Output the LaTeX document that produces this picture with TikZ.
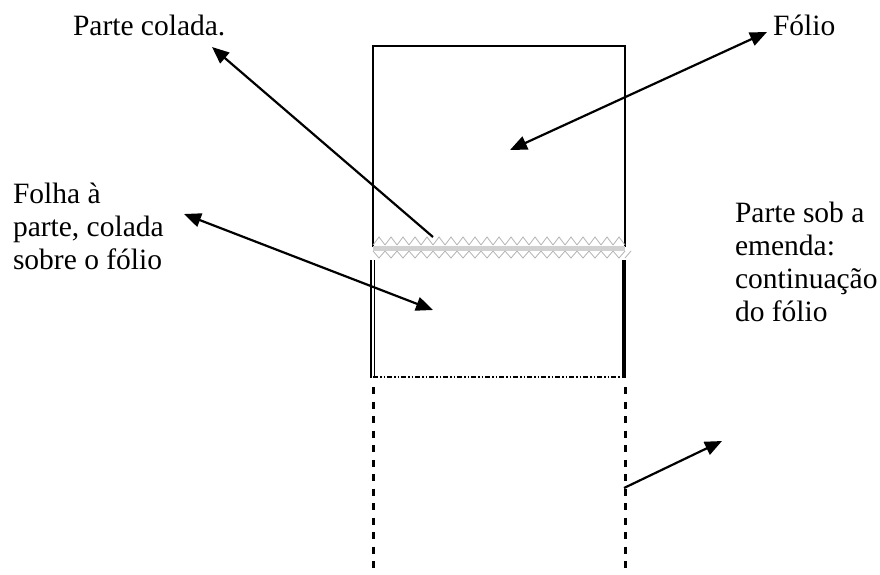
\documentclass[tikz,border=0pt]{standalone}
\usepackage{fontspec}
\setmainfont{Liberation Serif}
\usetikzlibrary{arrows.meta}
\tikzset{
  lbl/.style={inner sep=0pt, outer sep=0pt, font=\fontsize{29.5}{33}\selectfont},
  arr/.style={line width=2.2pt, -{Triangle[length=17pt,width=14pt]}},
  arrtwo/.style={line width=2.2pt, {Triangle[length=17pt,width=14pt]}-{Triangle[length=17pt,width=14pt]}},
  edge/.style={line width=2pt},
  zig/.style={line width=0.8pt, draw=black!30},
}
\begin{document}
\begin{tikzpicture}[x=1pt,y=-1pt]
\useasboundingbox (0,0) rectangle (880,574);
% upper folio
\draw[edge] (373,247) -- (373,46) -- (625,46) -- (625,247);
% pasted seam
\fill[black!18] (373,246) rectangle (625,251);
\foreach \i in {0,...,20}{
  \pgfmathsetmacro{\xa}{373+12*\i}
  \draw[zig] (\xa,245) -- (\xa+6,237) -- (\xa+12,245);
  \draw[zig] (\xa,251) -- (\xa+6,258) -- (\xa+12,251);
}
\draw[zig] (625,258) -- (631,251);
% lower part
\draw[line width=1.3pt] (371,260) -- (371,378);
\draw[line width=1.3pt] (374.5,260) -- (374.5,378);
\draw[line width=4pt] (624,260) -- (624,378);
\draw[line width=1.6pt, dash pattern=on 5pt off 2pt on 1.5pt off 2pt on 1.5pt off 2pt] (373,377) -- (625,377);
% continuation dashed
\draw[line width=3pt, dash pattern=on 7pt off 7.5pt] (373,387) -- (373,574);
\draw[line width=3pt, dash pattern=on 7pt off 7.5pt] (625,387) -- (625,574);
% labels
\node[lbl, anchor=base west] (pc) at (73,35) {Parte colada.};
\node[lbl, anchor=base west] (fo) at (773,35) {Fólio};
\node[lbl, align=left, anchor=base west] (fa) at (13,269) {Folha à\\parte, colada\\sobre o fólio};
\node[lbl, align=left, anchor=base west] (ps) at (735,321) {Parte sob a\\emenda:\\continuação\\do fólio};
% arrow ends
\coordinate (pcS) at (433,237);
\coordinate (pcT) at (212,47);
\coordinate (foA) at (510,150);
\coordinate (foB) at (767,32);
\coordinate (faA) at (184,214);
\coordinate (faB) at (433,310);
\coordinate (psA) at (624,488);
\coordinate (psB) at (722,441);
\draw[arr] (pcS) -- (pcT);
\draw[arrtwo] (foA) -- (foB);
\draw[arrtwo] (faA) -- (faB);
\draw[arr] (psA) -- (psB);
\end{tikzpicture}
\end{document}
